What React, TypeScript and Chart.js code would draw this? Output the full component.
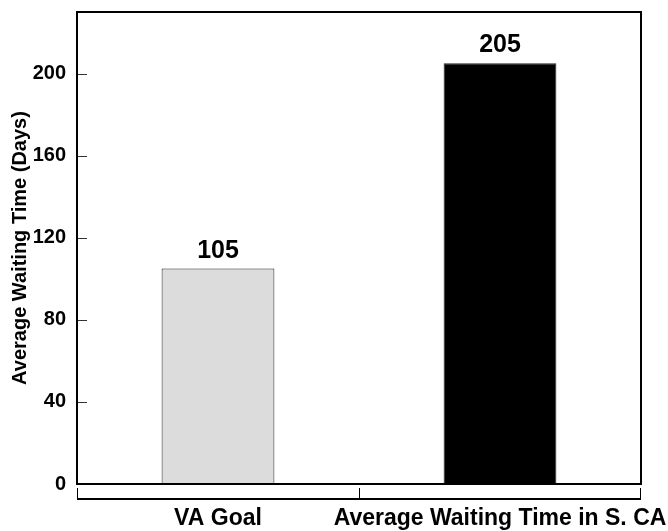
import React, { useEffect, useRef } from 'react';
import { Chart, registerables } from 'chart.js';

Chart.register(...registerables);

const categories = ['VA Goal', 'Average Waiting Time in S. CA'];
const waitingDays = [105, 205];
const barColors = ['#dcdcdc', '#000000'];
const yTickValues = [0, 40, 80, 120, 160, 200];
const yAxisTitle = 'Average Waiting Time (Days)';

const FONT = "'Liberation Sans', Arial, Helvetica, sans-serif";

const framePlugin = {
  id: 'framePlugin',
  afterDraw(chart: any) {
    const { ctx, chartArea: a, scales } = chart;
    const xs = scales.x;
    const ys = scales.y;
    ctx.save();
    // inward y tick marks
    ctx.strokeStyle = '#333';
    ctx.lineWidth = 1;
    ys.ticks.forEach((t: any) => {
      const py = Math.round(ys.getPixelForValue(t.value)) + 0.5;
      ctx.beginPath();
      ctx.moveTo(a.left, py);
      ctx.lineTo(a.left + 10, py);
      ctx.stroke();
    });
    // plot frame
    ctx.strokeStyle = '#000';
    ctx.lineWidth = 2;
    ctx.strokeRect(a.left, a.top, a.right - a.left, a.bottom - a.top);
    // category bracket below plot
    const by = a.bottom + 15;
    const step = xs.getPixelForValue(1) - xs.getPixelForValue(0);
    const start = xs.getPixelForValue(0) - step / 2;
    ctx.lineWidth = 2;
    ctx.beginPath();
    ctx.moveTo(start, by);
    ctx.lineTo(start + step * categories.length, by);
    ctx.stroke();
    ctx.lineWidth = 1;
    for (let i = 0; i <= categories.length; i++) {
      let px = Math.round(start + step * i) + 0.5;
      if (i === 0) px = a.left + 0.5;
      if (i === categories.length) px = a.right - 0.5;
      ctx.beginPath();
      ctx.moveTo(px, by - 11);
      ctx.lineTo(px, by);
      ctx.stroke();
    }
    // value labels
    const meta = chart.getDatasetMeta(0);
    ctx.fillStyle = '#000';
    ctx.font = `bold 25px ${FONT}`;
    ctx.textAlign = 'center';
    ctx.textBaseline = 'alphabetic';
    meta.data.forEach((bar: any, i: number) => {
      ctx.fillText(String(waitingDays[i]), bar.x, bar.y - 11);
    });
    ctx.restore();
  },
};

export default function App() {
  const ref = useRef<HTMLCanvasElement | null>(null);

  useEffect(() => {
    document.body.style.margin = '0';
    const canvas = ref.current;
    if (!canvas) return;
    const chart = new Chart(canvas, {
      type: 'bar',
      data: {
        labels: categories,
        datasets: [
          {
            data: waitingDays,
            backgroundColor: barColors,
            borderColor: '#222',
            borderWidth: 1,
            borderSkipped: false,
            barPercentage: 0.4,
            categoryPercentage: 1,
          },
        ],
      },
      options: {
        responsive: false,
        animation: false,
        devicePixelRatio: 1,
        layout: { padding: { top: 12, right: 27, left: 0, bottom: 0 } },
        plugins: {
          legend: { display: false },
          tooltip: { enabled: false },
          title: { display: false },
        },
        scales: {
          x: {
            grid: { display: false, drawTicks: false },
            border: { display: false },
            ticks: {
              color: '#000',
              font: { family: FONT, size: 23, weight: 'bold' },
              padding: 21,
              maxRotation: 0,
              autoSkip: false,
            },
            afterFit: (s: any) => {
              s.height = 47;
              s.paddingLeft = 0;
              s.paddingRight = 0;
              s.paddingTop = 0;
              s.paddingBottom = 0;
            },
          },
          y: {
            min: 0,
            max: 230,
            grid: { display: false, drawTicks: false },
            border: { display: false },
            afterBuildTicks: (s: any) => {
              s.ticks = yTickValues.map((v) => ({ value: v }));
            },
            ticks: {
              color: '#000',
              font: { family: FONT, size: 20, weight: 'bold' },
              padding: 11,
            },
            title: {
              display: true,
              text: yAxisTitle,
              color: '#000',
              font: { family: FONT, size: 20, weight: 'bold' },
              padding: { top: 8, bottom: 0 },
            },
            afterFit: (s: any) => {
              s.width = 77;
              s.paddingLeft = 0;
              s.paddingRight = 0;
              s.paddingTop = 0;
              s.paddingBottom = 0;
            },
          },
        },
      },
      plugins: [framePlugin],
    });
    return () => chart.destroy();
  }, []);

  return <canvas ref={ref} width={668} height={531} style={{ display: 'block' }} />;
}
